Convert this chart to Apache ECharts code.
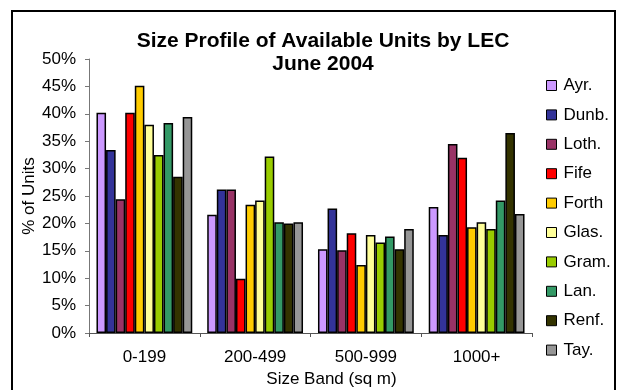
<!DOCTYPE html>
<html>
<head>
<meta charset="utf-8">
<script src="https://cdn.jsdelivr.net/npm/echarts@6/dist/echarts.min.js"></script>
<style>
  html, body { margin: 0; padding: 0; background: #fff; }
  #chart { width: 621px; height: 390px; }
</style>
</head>
<body>
<div id="chart"></div>
<script>
// Size bands on the x axis
const sizeBands = ['0-199', '200-499', '500-999', '1000+'];

// Share of available units (%) in each size band, per LEC
const ayr   = [40.2, 21.6, 15.3, 23.0];
const dunb  = [33.4, 26.2, 22.7, 17.9];
const loth  = [24.4, 26.2, 15.1, 34.5];
const fife  = [40.2,  9.9, 18.2, 32.0];
const forth = [45.1, 23.4, 12.4, 19.3];
const glas  = [38.0, 24.2, 17.9, 20.2];
const gram  = [32.5, 32.2, 16.5, 19.0];
const lan   = [38.3, 20.2, 17.6, 24.2];
const renf  = [28.5, 20.0, 15.3, 36.5];
const tay   = [39.4, 20.2, 19.0, 21.7];

const lecNames = ['Ayr.', 'Dunb.', 'Loth.', 'Fife', 'Forth', 'Glas.', 'Gram.', 'Lan.', 'Renf.', 'Tay.'];
const lecValues = [ayr, dunb, loth, fife, forth, glas, gram, lan, renf, tay];
const lecColors = ['#CC99FF', '#333399', '#993366', '#FF0000', '#FFCC00',
                   '#FFFF99', '#99CC00', '#339966', '#333300', '#969696'];

const yTicks = [0, 5, 10, 15, 20, 25, 30, 35, 40, 45, 50];

const FONT = '"Liberation Sans", Arial, sans-serif';

const chart = echarts.init(document.getElementById('chart'), null, { renderer: 'canvas' });

chart.setOption({
  backgroundColor: '#fff',
  animation: false,
  textStyle: { fontFamily: FONT },
  title: {
    text: 'Size Profile of Available Units by LEC\nJune 2004',
    left: 318,
    top: 25,
    textAlign: 'center',
    textStyle: {
      fontFamily: FONT,
      fontSize: 21,
      fontWeight: 'bold',
      color: '#000',
      lineHeight: 23
    }
  },
  legend: {
    orient: 'vertical',
    left: 546,
    top: 77,
    padding: 0,
    itemWidth: 10,
    itemHeight: 10,
    itemGap: 12.4,
    icon: 'rect',
    textStyle: { fontFamily: FONT, fontSize: 17, color: '#000', padding: [0, 0, 0, 2] },
    itemStyle: { borderColor: '#000', borderWidth: 1 },
    data: lecNames
  },
  grid: {
    left: 89,
    right: 89,
    top: 59,
    bottom: 57,
    containLabel: false,
    outerBoundsMode: 'none'
  },
  xAxis: {
    type: 'category',
    data: sizeBands,
    name: 'Size Band (sq m)',
    nameLocation: 'middle',
    nameGap: 34,
    nameTextStyle: { fontFamily: FONT, fontSize: 17, color: '#000', padding: [0, 0, 0, 42] },
    axisLine: { lineStyle: { color: '#555', width: 1 } },
    axisTick: { show: true, length: 4, alignWithLabel: false, lineStyle: { color: '#555' } },
    axisLabel: { fontFamily: FONT, fontSize: 17, color: '#000', margin: 16 }
  },
  yAxis: {
    type: 'value',
    min: yTicks[0],
    max: yTicks[yTicks.length - 1],
    interval: 5,
    name: '% of Units',
    nameLocation: 'middle',
    nameGap: 51,
    nameMoveOverlap: false,
    nameTextStyle: { fontFamily: FONT, fontSize: 17, color: '#000' },
    axisLine: { show: true, lineStyle: { color: '#777', width: 1 } },
    axisTick: { show: true, length: 4, inside: false, lineStyle: { color: '#777' } },
    splitLine: { show: false },
    axisLabel: {
      fontFamily: FONT,
      fontSize: 17,
      color: '#000',
      margin: 13,
      formatter: v => v + '%'
    }
  },
  series: lecNames.map((name, i) => ({
    name: name,
    type: 'bar',
    data: lecValues[i],
    barGap: '0%',
    barCategoryGap: '13.5%',
    itemStyle: { color: lecColors[i], borderColor: '#000', borderWidth: 1.5 }
  })),
  graphic: [{
    type: 'rect',
    shape: { x: 12, y: 11, width: 603, height: 400 },
    style: { fill: null, stroke: '#000', lineWidth: 2 },
    silent: true,
    z: 100
  }]
});
</script>
</body>
</html>
